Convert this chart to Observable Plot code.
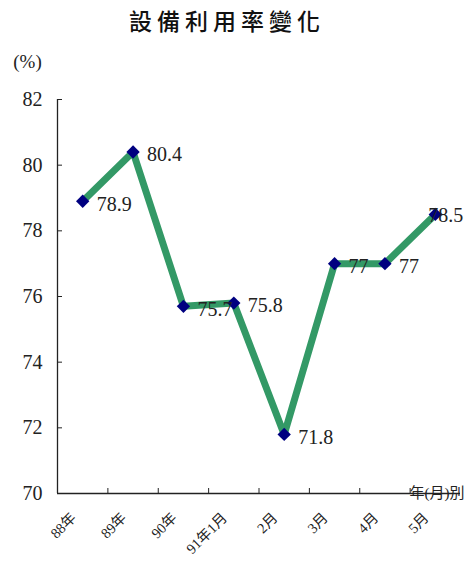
<!DOCTYPE html>
<html>
<head>
<meta charset="utf-8">
<script src="https://cdn.jsdelivr.net/npm/d3@7"></script>
<script src="https://cdn.jsdelivr.net/npm/@observablehq/plot@0.6"></script>
<style>
  html, body { margin: 0; padding: 0; background: #fff; }
  #title {
    height: 40px; line-height: 40px; text-align: center;
    font-family: "Noto Sans CJK TC", sans-serif; font-size: 23px; font-weight: 500;
    letter-spacing: 5px; color: #111; padding-right: 12px; box-sizing: border-box;
  }
  svg { display: block; }
  #chart svg text { font-family: "Liberation Serif", "Noto Sans CJK TC", serif; }
</style>
</head>
<body>
<div id="title">設備利用率變化</div>
<div id="chart"></div>
<script>
// Capacity utilisation rate by year / month
const periods = ["88年", "89年", "90年", "91年1月", "2月", "3月", "4月", "5月"];
const rates = [78.9, 80.4, 75.7, 75.8, 71.8, 77, 77, 78.5];
const yTicks = [70, 72, 74, 76, 78, 80, 82];

const rows = periods.map((period, i) => ({period, pos: i + 0.5, rate: rates[i], last: i === periods.length - 1}));

const chart = Plot.plot({
  width: 466,
  height: 523,
  marginTop: 59,
  marginBottom: 70,
  marginLeft: 57,
  marginRight: 6,
  style: {color: "#222", background: "#fff"},
  x: {domain: [0, periods.length], axis: null},
  y: {domain: [70, 82], axis: null},
  marks: [
    // axis lines
    Plot.ruleY([70], {stroke: "#222", strokeWidth: 1.3}),
    Plot.ruleX([0], {y1: 70, y2: 82, stroke: "#222", strokeWidth: 1.3}),
    // y ticks pointing inward, then labels
    Plot.axisY({ticks: yTicks, tickSize: -5, tickFormat: () => "", label: null, stroke: "#222"}),
    Plot.axisY({ticks: yTicks, tickSize: 0, tickPadding: 15, label: null, fontSize: 20, fill: "#222"}),
    // x ticks at category boundaries pointing upward
    Plot.axisX({ticks: d3.range(periods.length), tickSize: -5, tickFormat: () => "", label: null, stroke: "#222"}),
    // rotated category labels
    Plot.axisX({
      ticks: rows.map(d => d.pos),
      tickFormat: v => periods[Math.floor(v)],
      tickSize: 0, tickPadding: 22, tickRotate: -45, label: null, fontSize: 14.5, fill: "#222", dx: -9
    }),
    // unit and axis captions
    Plot.text(["(%)"], {frameAnchor: "top-left", dx: -30, dy: -45, fontSize: 19, textAnchor: "middle", fill: "#222"}),
    Plot.text(["年(月)別"], {frameAnchor: "bottom-right", lineAnchor: "middle", dx: 4, dy: 0, fontSize: 15, textAnchor: "end", fill: "#222"}),
    // series
    Plot.line(rows, {x: "pos", y: "rate", stroke: "#339966", strokeWidth: 7, strokeLinejoin: "miter"}),
    Plot.dot(rows, {x: "pos", y: "rate", symbol: "diamond2", r: 6, fill: "#000080", stroke: "none"}),
    Plot.text(rows.filter(d => !d.last), {x: "pos", y: "rate", text: d => String(d.rate), dx: 14, dy: 3, textAnchor: "start", fontSize: 20, fill: "#222"}),
    Plot.text(rows.filter(d => d.last), {x: "pos", y: "rate", text: d => String(d.rate), dx: -7, dy: 1, textAnchor: "start", fontSize: 20, fill: "#222"})
  ]
});
document.getElementById("chart").append(chart);
</script>
</body>
</html>
